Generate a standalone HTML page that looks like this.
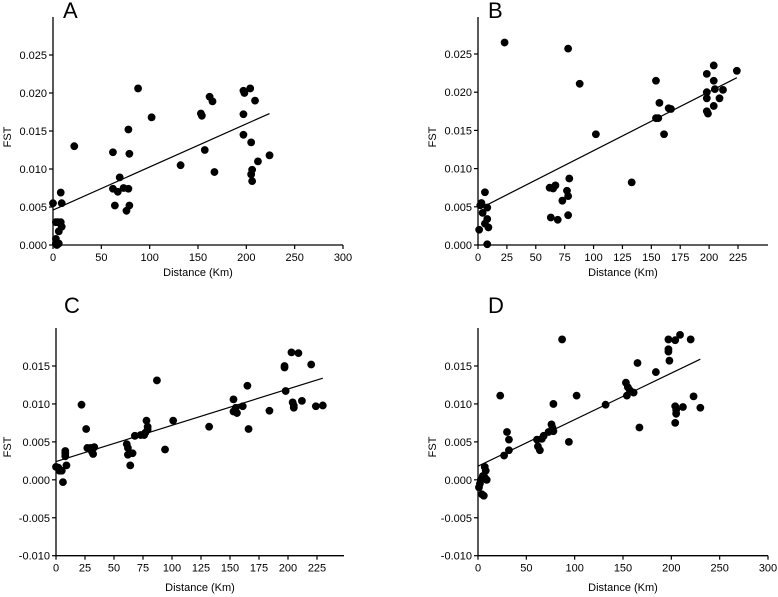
<!DOCTYPE html>
<html><head><meta charset="utf-8"><style>
body{margin:0;background:#fff}
svg{display:block;font-family:"Liberation Sans",sans-serif}
</style></head><body>
<svg id="s" width="778" height="597" viewBox="0 0 778 597"></svg>
<script>
const xA=[0,3,5,8,8,9,9,6,3,3,6,4,22,62,62,64,67,69,73,76,78,78,79,79,88,102,132,153,154,157,162,165,167,197,198,197,197,204,205,209,205,206,206,212,224];
const yA=[0.0055,0.003,0.003,0.003,0.0069,0.0055,0.0024,0.0018,0.0008,0.0002,0.0002,0.0,0.013,0.0122,0.0074,0.0052,0.007,0.0089,0.0075,0.0045,0.0152,0.0074,0.012,0.0052,0.0206,0.0168,0.0105,0.0173,0.017,0.0125,0.0195,0.0189,0.0096,0.0203,0.02,0.0172,0.0145,0.0206,0.0135,0.019,0.0093,0.0099,0.0084,0.011,0.0118];
const lineA=[[0,0.0046],[224,0.0173]];
const xB=[1,3,4,6,6,8,8,9,8,2,23,62,63,65,67,69,73,77,78,78,79,78,88,102,133,154,154,156,157,161,165,167,198,198,198,198,199,204,204,205,204,209,212,224];
const yB=[0.002,0.0055,0.0042,0.0069,0.0028,0.0049,0.0034,0.0023,0.0001,0.0052,0.0265,0.0075,0.0036,0.0074,0.0078,0.0033,0.0058,0.0071,0.0257,0.0064,0.0087,0.0039,0.0211,0.0145,0.0082,0.0215,0.0166,0.0166,0.0186,0.0145,0.0179,0.0178,0.0224,0.02,0.0192,0.0175,0.0172,0.0235,0.0215,0.0204,0.0182,0.0192,0.0203,0.0228];
const lineB=[[2,0.0048],[224,0.0219]];
const xC=[0,2,3,5,6,8,8,8,9,22,26,27,30,31,32,33,61,62,62,64,66,68,73,76,77,78,79,79,87,94,101,132,153,153,155,156,161,165,166,184,197,197,198,203,204,205,205,209,212,220,224,230];
const yC=[0.0017,0.0016,0.0012,0.0012,-0.0003,0.0038,0.0035,0.0031,0.0019,0.0099,0.0067,0.0042,0.0042,0.0037,0.0034,0.0043,0.0047,0.0042,0.0033,0.0019,0.0035,0.0058,0.0059,0.0059,0.0062,0.0078,0.007,0.0066,0.0131,0.004,0.0078,0.007,0.0106,0.009,0.0095,0.0088,0.0097,0.0124,0.0067,0.0091,0.015,0.0148,0.0117,0.0168,0.0102,0.0098,0.0095,0.0167,0.0104,0.0152,0.0097,0.0098];
const lineC=[[0,0.0024],[230,0.0134]];
const xD=[1,2,3,4,5,6,7,8,9,7,23,27,30,32,32,61,62,64,66,68,73,76,77,78,78,87,94,102,132,153,154,155,157,161,165,167,184,197,197,197,198,204,204,205,205,204,209,212,220,223,230];
const yD=[-0.001,-0.0005,0.0,-0.0019,0.0005,-0.0021,0.0017,0.0012,0.0,0.0003,0.0111,0.0032,0.0063,0.0053,0.0039,0.0053,0.0044,0.0039,0.0054,0.0058,0.0063,0.0073,0.0069,0.0064,0.01,0.0185,0.005,0.0111,0.0099,0.0128,0.0111,0.0122,0.0118,0.0115,0.0154,0.0069,0.0142,0.0185,0.0172,0.0169,0.0157,0.0184,0.0097,0.0092,0.0087,0.0075,0.0191,0.0096,0.0185,0.011,0.0095];
const lineD=[[0,0.0018],[230,0.0159]];
const xTicks300=["0","50","100","150","200","250","300"];
const xTicks225=["0","25","50","75","100","125","150","175","200","225"];
const yTicksAB=["0.000","0.005","0.010","0.015","0.020","0.025"];
const yTicksCD=["-0.010","-0.005","0.000","0.005","0.010","0.015"];

const NS="http://www.w3.org/2000/svg";
const svg=document.getElementById('s');
function mk(tag,attrs,parent){const e=document.createElementNS(NS,tag);for(const k in attrs)e.setAttribute(k,attrs[k]);(parent||svg).appendChild(e);return e;}

function panel(p){
  const g=mk('g',{});
  
  
  const sx=v=>p.x0+(v-p.xmin)/(p.xmax-p.xmin)*(p.x1-p.x0);
  const sy=v=>p.y0-(v-p.ymin)/(p.ymax-p.ymin)*(p.y0-p.y1);
  const ax=mk('path',{d:`M${p.x0} ${p.top}V${p.y0}H${p.xend}`,stroke:'#000','stroke-width':1.3,fill:'none'},g);
  
  
  p.xt.forEach(t=>{const X=sx(+t);
    mk('line',{x1:X,x2:X,y1:p.y0,y2:p.y0+4,stroke:'#000','stroke-width':1.2},g);
    const tx=mk('text',{x:X,y:p.y0+16,'font-size':11,'text-anchor':'middle'},g);tx.textContent=t;
    
    });
  p.yt.forEach(t=>{const Y=sy(+t);
    mk('line',{x1:p.x0-4,x2:p.x0,y1:Y,y2:Y,stroke:'#000','stroke-width':1.2},g);
    const tx=mk('text',{x:p.x0-6,y:Y+4,'font-size':11,'text-anchor':'end'},g);tx.textContent=t;
    
    });
  const lab=mk('text',{x:p.lx,y:p.ly,'font-size':22},g);lab.textContent=p.id;
  
  
  const xl=mk('text',{x:(p.x0+p.xend)/2,y:p.xly,'font-size':11,'text-anchor':'middle'},g);xl.textContent='Distance (Km)';
  
  
  const yl=mk('text',{x:0,y:0,'font-size':11,'text-anchor':'middle',transform:`translate(${p.ylx},${p.yly}) rotate(-90)`},g);yl.textContent='FST';
  
  
  p.xs.forEach((v,i)=>{const c=mk('circle',{cx:sx(v),cy:sy(p.ys[i]),r:3.9,fill:'#000'},g);
    
    });
  const l=mk('line',{x1:sx(p.line[0][0]),y1:sy(p.line[0][1]),x2:sx(p.line[1][0]),y2:sy(p.line[1][1]),stroke:'#000','stroke-width':1.2},g);
  
  
}
panel({id:'A',xs:xA,ys:yA,line:lineA,xt:xTicks300,yt:yTicksAB,x0:53,x1:343,xmin:0,xmax:300,xend:343,y0:245,y1:55,ymin:0,ymax:0.025,top:17,lx:63,ly:18,xly:276,ylx:11,yly:137});
panel({id:'B',xs:xB,ys:yB,line:lineB,xt:xTicks225,yt:yTicksAB,x0:478,x1:738,xmin:0,xmax:225,xend:768,y0:245,y1:54,ymin:0,ymax:0.025,top:17,lx:488,ly:18,xly:276,ylx:436,yly:137});
panel({id:'C',xs:xC,ys:yC,line:lineC,xt:xTicks225,yt:yTicksCD,x0:56,x1:317,xmin:0,xmax:225,xend:344,y0:555.7,y1:366,ymin:-0.01,ymax:0.015,top:328,lx:64,ly:313,xly:591,ylx:11,yly:447});
panel({id:'D',xs:xD,ys:yD,line:lineD,xt:xTicks300,yt:yTicksCD,x0:478,x1:768,xmin:0,xmax:300,xend:768,y0:555.7,y1:366,ymin:-0.01,ymax:0.015,top:328,lx:488,ly:313,xly:591,ylx:436,yly:447});
</script>
</body></html>
